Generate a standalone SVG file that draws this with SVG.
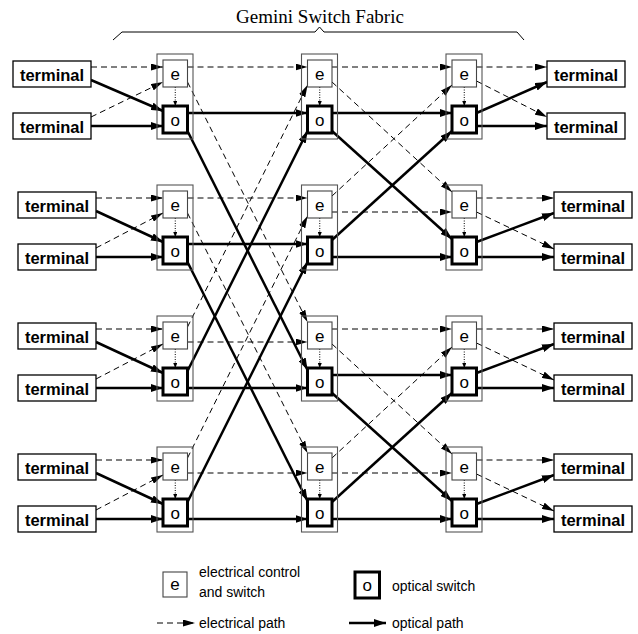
<svg xmlns="http://www.w3.org/2000/svg" width="638" height="634" viewBox="0 0 638 634">
<style>
text{font-family:"Liberation Sans",Arial,sans-serif;fill:#000}
.title{font-family:"Liberation Serif","Times New Roman",serif;font-size:19px}
.term rect{fill:#fff;stroke:#000;stroke-width:1.3}
.term text{font-size:16.5px;font-weight:bold;text-anchor:middle}
.outer{fill:none;stroke:#555;stroke-width:1.1}
.ebox{fill:#fff;stroke:#444;stroke-width:1.1}
.obox{fill:#fff;stroke:#000;stroke-width:3}
.lbl{font-size:17px;text-anchor:middle}
.leg{font-size:14px}
.el{fill:none;stroke:#000;stroke-width:1;stroke-dasharray:6 4;marker-end:url(#ah)}
.op{fill:none;stroke:#000;stroke-width:2.5;marker-end:url(#ahT)}
.dt{fill:none;stroke:#000;stroke-width:1;stroke-dasharray:1 1.5;marker-end:url(#ahS)}
</style>
<defs>
<marker id="ah" markerUnits="userSpaceOnUse" markerWidth="12" markerHeight="7" refX="12" refY="3.5" orient="auto"><path d="M0,0L12,3.5L0,7z" fill="#000"/></marker>
<marker id="ahT" markerUnits="userSpaceOnUse" markerWidth="12" markerHeight="8" refX="12" refY="4" orient="auto"><path d="M0,0L12,4L0,8z" fill="#000"/></marker>
<marker id="ahS" markerUnits="userSpaceOnUse" markerWidth="5" markerHeight="4" refX="5" refY="2" orient="auto"><path d="M0,0L5,2L0,4z" fill="#000"/></marker>
</defs>
<rect width="638" height="634" fill="#fff"/>

<g id="title">
<text class="title" x="320" y="23" text-anchor="middle">Gemini Switch Fabric</text>
<polyline points="113,40 122,32 315,32 319.5,27 324,32 517,32 524,40" fill="none" stroke="#000" stroke-width="1"/>
</g>

<g id="connectors">
<!-- left terminals to stage 1 -->
<path class="el" d="M91,67H163"/><path class="el" d="M91,117L163,82"/>
<path class="op" d="M91,80L163,111"/><path class="op" d="M91,126H163"/>
<path class="el" d="M96,198H163"/><path class="el" d="M96,248L163,213"/>
<path class="op" d="M96,211L163,242"/><path class="op" d="M96,257H163"/>
<path class="el" d="M96,329H163"/><path class="el" d="M96,379L163,344"/>
<path class="op" d="M96,342L163,373"/><path class="op" d="M96,388H163"/>
<path class="el" d="M96,460H163"/><path class="el" d="M96,510L163,475"/>
<path class="op" d="M96,473L163,504"/><path class="op" d="M96,519H163"/>
<!-- stage 1 to stage 2 -->
<path class="el" d="M187.5,67H307.5"/><path class="el" d="M187.5,198H307.5"/>
<path class="el" d="M187.5,342H307.5"/><path class="el" d="M187.5,473H307.5"/>
<path class="el" d="M187.5,82L307.5,322"/><path class="el" d="M187.5,213L307.5,453"/>
<path class="el" d="M187.5,327L307.5,85"/><path class="el" d="M187.5,458L307.5,216"/>
<path class="op" d="M187.5,113H307.5"/><path class="op" d="M187.5,244H307.5"/>
<path class="op" d="M187.5,388H307.5"/><path class="op" d="M187.5,519H307.5"/>
<path class="op" d="M187.5,131L307.5,370"/><path class="op" d="M187.5,262L307.5,501"/>
<path class="op" d="M187.5,371L307.5,131"/><path class="op" d="M187.5,502L307.5,262"/>
<!-- stage 2 to stage 3 -->
<path class="el" d="M332,67H452"/><path class="el" d="M332,212H452"/>
<path class="el" d="M332,329H452"/><path class="el" d="M332,473H452"/>
<path class="el" d="M332,82L452,192"/><path class="el" d="M332,196L452,85"/>
<path class="el" d="M332,344L452,454"/><path class="el" d="M332,458L452,347"/>
<path class="op" d="M332,113H452"/><path class="op" d="M332,257H452"/>
<path class="op" d="M332,375H452"/><path class="op" d="M332,519H452"/>
<path class="op" d="M332,131L452,239"/><path class="op" d="M332,240L452,131"/>
<path class="op" d="M332,393L452,501"/><path class="op" d="M332,502L452,393"/>
<!-- stage 3 to right terminals -->
<path class="el" d="M476.5,67H547"/><path class="el" d="M476.5,81L547,117"/>
<path class="op" d="M476.5,113L547,82"/><path class="op" d="M476.5,126H547"/>
<path class="el" d="M476.5,198H554"/><path class="el" d="M476.5,212L554,249"/>
<path class="op" d="M476.5,242L554,213"/><path class="op" d="M476.5,257H554"/>
<path class="el" d="M476.5,329H554"/><path class="el" d="M476.5,343L554,380"/>
<path class="op" d="M476.5,373L554,344"/><path class="op" d="M476.5,388H554"/>
<path class="el" d="M476.5,460H554"/><path class="el" d="M476.5,474L554,511"/>
<path class="op" d="M476.5,504L554,475"/><path class="op" d="M476.5,519H554"/>
<!-- e to o control -->
<path class="dt" d="M175.25,87V106"/><path class="dt" d="M319.75,87V106"/><path class="dt" d="M464.25,87V106"/>
<path class="dt" d="M175.25,218V237"/><path class="dt" d="M319.75,218V237"/><path class="dt" d="M464.25,218V237"/>
<path class="dt" d="M175.25,349V368"/><path class="dt" d="M319.75,349V368"/><path class="dt" d="M464.25,349V368"/>
<path class="dt" d="M175.25,480V499"/><path class="dt" d="M319.75,480V499"/><path class="dt" d="M464.25,480V499"/>
</g>

<!-- switch nodes -->
<g id="sw-1-1"><rect class="outer" x="157" y="54" width="36" height="85"/><rect class="ebox" x="163" y="60" width="24.5" height="27"/><text class="lbl" x="175.25" y="79.5">e</text><rect class="obox" x="163" y="106" width="24.5" height="27"/><text class="lbl" x="175.25" y="125.5">o</text></g>
<g id="sw-1-2"><rect class="outer" x="157" y="185" width="36" height="85"/><rect class="ebox" x="163" y="191" width="24.5" height="27"/><text class="lbl" x="175.25" y="210.5">e</text><rect class="obox" x="163" y="237" width="24.5" height="27"/><text class="lbl" x="175.25" y="256.5">o</text></g>
<g id="sw-1-3"><rect class="outer" x="157" y="316" width="36" height="85"/><rect class="ebox" x="163" y="322" width="24.5" height="27"/><text class="lbl" x="175.25" y="341.5">e</text><rect class="obox" x="163" y="368" width="24.5" height="27"/><text class="lbl" x="175.25" y="387.5">o</text></g>
<g id="sw-1-4"><rect class="outer" x="157" y="447" width="36" height="85"/><rect class="ebox" x="163" y="453" width="24.5" height="27"/><text class="lbl" x="175.25" y="472.5">e</text><rect class="obox" x="163" y="499" width="24.5" height="27"/><text class="lbl" x="175.25" y="518.5">o</text></g>

<g id="sw-2-1"><rect class="outer" x="301.5" y="54" width="36" height="85"/><rect class="ebox" x="307.5" y="60" width="24.5" height="27"/><text class="lbl" x="319.75" y="79.5">e</text><rect class="obox" x="307.5" y="106" width="24.5" height="27"/><text class="lbl" x="319.75" y="125.5">o</text></g>
<g id="sw-2-2"><rect class="outer" x="301.5" y="185" width="36" height="85"/><rect class="ebox" x="307.5" y="191" width="24.5" height="27"/><text class="lbl" x="319.75" y="210.5">e</text><rect class="obox" x="307.5" y="237" width="24.5" height="27"/><text class="lbl" x="319.75" y="256.5">o</text></g>
<g id="sw-2-3"><rect class="outer" x="301.5" y="316" width="36" height="85"/><rect class="ebox" x="307.5" y="322" width="24.5" height="27"/><text class="lbl" x="319.75" y="341.5">e</text><rect class="obox" x="307.5" y="368" width="24.5" height="27"/><text class="lbl" x="319.75" y="387.5">o</text></g>
<g id="sw-2-4"><rect class="outer" x="301.5" y="447" width="36" height="85"/><rect class="ebox" x="307.5" y="453" width="24.5" height="27"/><text class="lbl" x="319.75" y="472.5">e</text><rect class="obox" x="307.5" y="499" width="24.5" height="27"/><text class="lbl" x="319.75" y="518.5">o</text></g>

<g id="sw-3-1"><rect class="outer" x="446" y="54" width="36" height="85"/><rect class="ebox" x="452" y="60" width="24.5" height="27"/><text class="lbl" x="464.25" y="79.5">e</text><rect class="obox" x="452" y="106" width="24.5" height="27"/><text class="lbl" x="464.25" y="125.5">o</text></g>
<g id="sw-3-2"><rect class="outer" x="446" y="185" width="36" height="85"/><rect class="ebox" x="452" y="191" width="24.5" height="27"/><text class="lbl" x="464.25" y="210.5">e</text><rect class="obox" x="452" y="237" width="24.5" height="27"/><text class="lbl" x="464.25" y="256.5">o</text></g>
<g id="sw-3-3"><rect class="outer" x="446" y="316" width="36" height="85"/><rect class="ebox" x="452" y="322" width="24.5" height="27"/><text class="lbl" x="464.25" y="341.5">e</text><rect class="obox" x="452" y="368" width="24.5" height="27"/><text class="lbl" x="464.25" y="387.5">o</text></g>
<g id="sw-3-4"><rect class="outer" x="446" y="447" width="36" height="85"/><rect class="ebox" x="452" y="453" width="24.5" height="27"/><text class="lbl" x="464.25" y="472.5">e</text><rect class="obox" x="452" y="499" width="24.5" height="27"/><text class="lbl" x="464.25" y="518.5">o</text></g>

<!-- left terminals -->
<g id="lt-1" class="term"><rect x="13" y="61" width="78" height="26"/><text x="52" y="80.5">terminal</text></g>
<g id="lt-2" class="term"><rect x="13" y="113" width="78" height="26"/><text x="52" y="132.5">terminal</text></g>
<g id="lt-3" class="term"><rect x="18" y="192" width="78" height="26"/><text x="57" y="211.5">terminal</text></g>
<g id="lt-4" class="term"><rect x="18" y="244" width="78" height="26"/><text x="57" y="263.5">terminal</text></g>
<g id="lt-5" class="term"><rect x="18" y="323" width="78" height="26"/><text x="57" y="342.5">terminal</text></g>
<g id="lt-6" class="term"><rect x="18" y="375" width="78" height="26"/><text x="57" y="394.5">terminal</text></g>
<g id="lt-7" class="term"><rect x="18" y="454" width="78" height="26"/><text x="57" y="473.5">terminal</text></g>
<g id="lt-8" class="term"><rect x="18" y="506" width="78" height="26"/><text x="57" y="525.5">terminal</text></g>
<!-- right terminals -->
<g id="rt-1" class="term"><rect x="547" y="61" width="78" height="26"/><text x="586" y="80.5">terminal</text></g>
<g id="rt-2" class="term"><rect x="547" y="113" width="78" height="26"/><text x="586" y="132.5">terminal</text></g>
<g id="rt-3" class="term"><rect x="554" y="192" width="78" height="26"/><text x="593" y="211.5">terminal</text></g>
<g id="rt-4" class="term"><rect x="554" y="244" width="78" height="26"/><text x="593" y="263.5">terminal</text></g>
<g id="rt-5" class="term"><rect x="554" y="323" width="78" height="26"/><text x="593" y="342.5">terminal</text></g>
<g id="rt-6" class="term"><rect x="554" y="375" width="78" height="26"/><text x="593" y="394.5">terminal</text></g>
<g id="rt-7" class="term"><rect x="554" y="454" width="78" height="26"/><text x="593" y="473.5">terminal</text></g>
<g id="rt-8" class="term"><rect x="554" y="506" width="78" height="26"/><text x="593" y="525.5">terminal</text></g>

<!-- legend -->
<g id="legend">
<rect class="ebox" x="163" y="572" width="24" height="25"/><text class="lbl" x="175" y="590">e</text>
<text class="leg" x="199" y="577">electrical control</text>
<text class="leg" x="199" y="597">and switch</text>
<rect class="obox" x="355" y="572" width="24.5" height="26"/><text class="lbl" x="367.25" y="591">o</text>
<text class="leg" x="392" y="591">optical switch</text>
<path class="el" d="M157,623H195"/>
<text class="leg" x="199" y="628">electrical path</text>
<path class="op" d="M349,623H386"/>
<text class="leg" x="392" y="628">optical path</text>
</g>
</svg>
